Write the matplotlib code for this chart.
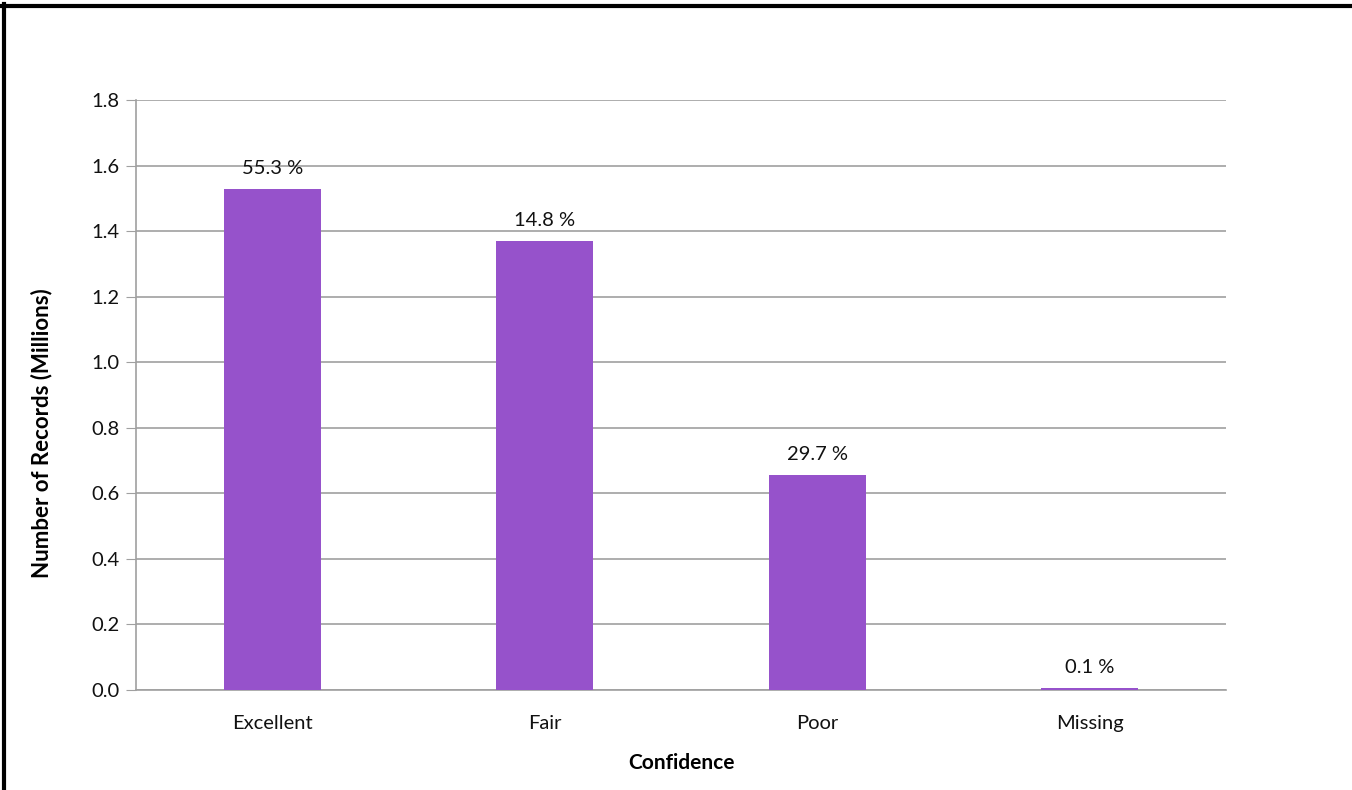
import matplotlib
matplotlib.use('Agg')
import matplotlib.pyplot as plt
from matplotlib.lines import Line2D

plt.rcParams['font.family'] = ['Lato', 'DejaVu Sans']

# Data
categories = ['Excellent', 'Fair', 'Poor', 'Missing']
records_millions = [1.528, 1.370, 0.656, 0.005]
pct_labels = ['55.3 %', '14.8 %', '29.7 %', '0.1 %']
yticks = [0.0, 0.2, 0.4, 0.6, 0.8, 1.0, 1.2, 1.4, 1.6, 1.8]

fig = plt.figure(figsize=(13.52, 7.90), dpi=100)
ax = fig.add_axes([0.1006, 0.1266, 0.8062, 0.7468])

x = range(len(categories))
bars = ax.bar(x, records_millions, width=0.355, color='#9652CB', zorder=3)

for b, lab in zip(bars, pct_labels):
    ax.annotate(lab, (b.get_x() + b.get_width() / 2, b.get_height()),
                xytext=(0, 15), textcoords='offset points',
                ha='center', va='center', fontsize=14.5, color='#111111')

ax.set_xlim(-0.5, len(categories) - 0.5)
ax.set_ylim(0, 1.8)
ax.set_yticks(yticks)
ax.set_yticklabels([f'{v:.1f}' for v in yticks])
ax.set_xticks(list(x))
ax.set_xticklabels(categories)
ax.tick_params(axis='y', length=7, color='#A0A0A0', labelsize=14.5, pad=5, labelcolor='#111111')
ax.tick_params(axis='x', length=0, labelsize=14.5, pad=18, labelcolor='#111111')

ax.grid(axis='y', color='#A0A0A0', linewidth=1.2, zorder=0)
for s in ['top', 'right']:
    ax.spines[s].set_visible(False)
for s in ['left', 'bottom']:
    ax.spines[s].set_color('#A0A0A0')
    ax.spines[s].set_linewidth(1.2)

ax.set_xlabel('Confidence', fontsize=15, fontweight='bold', labelpad=15)
ax.set_ylabel('Number of Records (Millions)', fontsize=16, fontweight='bold')
ax.yaxis.set_label_coords(-0.077, 0.436)

# frame borders at top and left
fig.add_artist(Line2D([0, 1], [0.9930, 0.9930], transform=fig.transFigure, color='black', linewidth=3))
fig.add_artist(Line2D([0.0033, 0.0033], [0, 0.995], transform=fig.transFigure, color='black', linewidth=3))

fig.savefig('out.png', dpi=100)
